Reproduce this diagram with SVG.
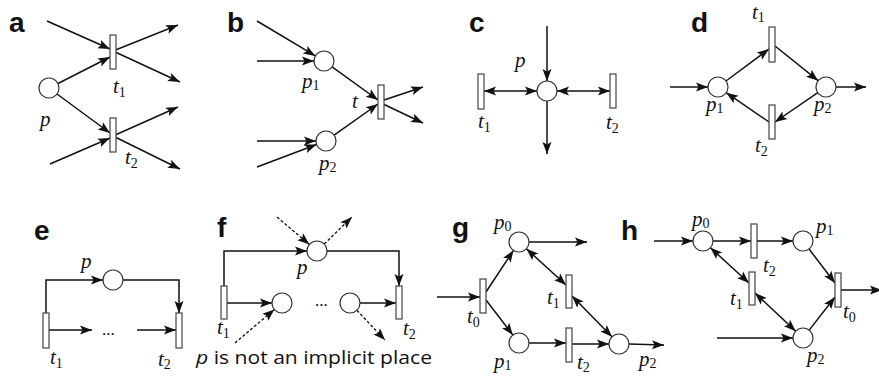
<svg xmlns="http://www.w3.org/2000/svg" width="879" height="376" viewBox="0 0 879 376">
<defs>
<marker id="ah" markerUnits="userSpaceOnUse" markerWidth="13" markerHeight="9" refX="12" refY="4.5" orient="auto-start-reverse" overflow="visible">
<path d="M0,0 L12,4.5 L0,9 L2.5,4.5 Z" fill="#111"/>
</marker>
<style>
.pl{fill:#fff;stroke:#333;stroke-width:1.2}
.tr{fill:#fff;stroke:#444;stroke-width:1.2}
.ar{fill:none;stroke:#111;stroke-width:1.5;marker-end:url(#ah)}
.da{fill:none;stroke:#111;stroke-width:1.5;marker-start:url(#ah);marker-end:url(#ah)}
.dt{fill:none;stroke:#111;stroke-width:1.3;stroke-dasharray:3,2;marker-end:url(#ah)}
.lb{font-family:"Liberation Sans",Arial,sans-serif;font-weight:bold;font-size:28px;fill:#111}
.it{font-family:"Liberation Serif","DejaVu Serif",serif;font-style:italic;font-size:21px;fill:#111}
.sb{font-family:"Liberation Serif","DejaVu Serif",serif;font-style:normal;font-size:14px}
.dots{font-family:"Liberation Serif","DejaVu Serif",serif;font-size:17px;fill:#111}
.cap{font-family:"Open Sans","Noto Sans",sans-serif;font-size:19px;fill:#111}
</style>
</defs>

<g id="labels">
<text class="lb" x="9" y="32">a</text>
<text class="lb" x="227" y="32">b</text>
<text class="lb" x="469" y="32">c</text>
<text class="lb" x="691" y="32">d</text>
<text class="lb" x="34" y="240">e</text>
<text class="lb" x="217" y="237">f</text>
<text class="lb" x="452" y="237">g</text>
<text class="lb" x="621" y="240">h</text>
</g>

<g id="connectors">
<line class="ar" x1="47" y1="21" x2="110" y2="49"/>
<line class="ar" x1="58" y1="83.5" x2="110" y2="57"/>
<line class="ar" x1="113" y1="51" x2="178" y2="25"/>
<line class="ar" x1="113" y1="51" x2="180" y2="82"/>
<line class="ar" x1="57" y1="94" x2="110" y2="133"/>
<line class="ar" x1="50" y1="164" x2="110" y2="138"/>
<line class="ar" x1="113" y1="136" x2="178" y2="107"/>
<line class="ar" x1="113" y1="136" x2="180" y2="169"/>
<line class="ar" x1="257" y1="21" x2="315.4" y2="55.9"/>
<line class="ar" x1="257" y1="61" x2="314" y2="61"/>
<line class="ar" x1="332.1" y1="66.9" x2="378" y2="100"/>
<line class="ar" x1="334.1" y1="135.2" x2="378" y2="104"/>
<line class="ar" x1="257" y1="141" x2="316" y2="141"/>
<line class="ar" x1="257" y1="167" x2="316.6" y2="144.5"/>
<line class="ar" x1="381" y1="101" x2="423" y2="87"/>
<line class="ar" x1="381" y1="103" x2="423" y2="123"/>
<line class="ar" x1="547" y1="26" x2="547" y2="81"/>
<line class="ar" x1="547" y1="101" x2="547" y2="154"/>
<line class="da" x1="484" y1="91" x2="537" y2="91"/>
<line class="da" x1="557" y1="91" x2="610" y2="91"/>
<line class="ar" x1="670" y1="87" x2="708" y2="87"/>
<line class="ar" x1="726" y1="81" x2="769" y2="49"/>
<line class="ar" x1="775" y1="46" x2="818.2" y2="80.7"/>
<line class="ar" x1="817.8" y1="92.7" x2="775" y2="122"/>
<line class="ar" x1="769" y1="122" x2="726.2" y2="92.7"/>
<line class="ar" x1="836" y1="87" x2="866" y2="87"/>
<path class="ar" d="M46,313 V280 H103"/>
<path class="ar" d="M123,280 H179 V313"/>
<line class="ar" x1="49" y1="330" x2="92" y2="330"/>
<line class="ar" x1="137" y1="330" x2="176" y2="330"/>
<path class="ar" d="M224,286 V251 H307"/>
<path class="ar" d="M327,251 H399 V286"/>
<line class="dt" x1="277" y1="217" x2="309.4" y2="244.5"/>
<line class="dt" x1="324.2" y1="244" x2="352" y2="217"/>
<line class="ar" x1="227" y1="303" x2="272" y2="303"/>
<line class="ar" x1="360" y1="303" x2="396" y2="303"/>
<line class="dt" x1="235" y1="343" x2="274.4" y2="309.5"/>
<line class="dt" x1="356.9" y1="310.3" x2="385" y2="340"/>
<line class="ar" x1="437" y1="297" x2="480" y2="297"/>
<line class="ar" x1="486" y1="292" x2="513.5" y2="250.3"/>
<line class="ar" x1="486" y1="300" x2="512.9" y2="335.1"/>
<line class="ar" x1="529" y1="242" x2="587" y2="242"/>
<line class="da" x1="526.4" y1="248.8" x2="566" y2="285"/>
<line class="da" x1="572" y1="296" x2="612" y2="336.8"/>
<line class="ar" x1="529" y1="343" x2="566" y2="343"/>
<line class="ar" x1="572" y1="344" x2="609" y2="344"/>
<line class="ar" x1="629" y1="344" x2="664" y2="345"/>
<line class="ar" x1="654" y1="241" x2="693" y2="241"/>
<line class="ar" x1="713" y1="241" x2="751" y2="241"/>
<line class="ar" x1="757" y1="241" x2="793" y2="241"/>
<line class="ar" x1="809" y1="249" x2="835" y2="283"/>
<line class="ar" x1="809.2" y1="330.1" x2="835" y2="297"/>
<line class="ar" x1="841" y1="290" x2="882" y2="290"/>
<line class="da" x1="710.4" y1="247.7" x2="749" y2="283"/>
<line class="da" x1="755" y1="293" x2="795.7" y2="331.2"/>
<line class="ar" x1="717" y1="338" x2="793" y2="338"/>
</g>

<g id="a-p"><circle class="pl" cx="49" cy="88" r="10"/><text class="it" x="40" y="126">p</text></g>
<g id="a-t1"><rect class="tr" x="110" y="35" width="6" height="34"/><text class="it" x="113" y="93">t<tspan class="sb" dy="4">1</tspan></text></g>
<g id="a-t2"><rect class="tr" x="110" y="118" width="6" height="34"/><text class="it" x="125" y="164">t<tspan class="sb" dy="4">2</tspan></text></g>

<g id="b-p1"><circle class="pl" cx="324" cy="61" r="10"/><text class="it" x="302" y="88">p<tspan class="sb" dy="2">1</tspan></text></g>
<g id="b-p2"><circle class="pl" cx="326" cy="141" r="10"/><text class="it" x="319" y="170">p<tspan class="sb" dy="2">2</tspan></text></g>
<g id="b-t"><rect class="tr" x="378" y="85" width="6" height="34"/><text class="it" x="352" y="108">t</text></g>

<g id="c-p"><circle class="pl" cx="547" cy="91" r="10"/><text class="it" x="515" y="67">p</text></g>
<g id="c-t1"><rect class="tr" x="478" y="74" width="6" height="35"/><text class="it" x="478" y="128">t<tspan class="sb" dy="4">1</tspan></text></g>
<g id="c-t2"><rect class="tr" x="610" y="74" width="6" height="34"/><text class="it" x="606" y="129">t<tspan class="sb" dy="4">2</tspan></text></g>

<g id="d-p1"><circle class="pl" cx="718" cy="87" r="10"/><text class="it" x="706" y="111">p<tspan class="sb" dy="2">1</tspan></text></g>
<g id="d-p2"><circle class="pl" cx="826" cy="87" r="10"/><text class="it" x="814" y="111">p<tspan class="sb" dy="2">2</tspan></text></g>
<g id="d-t1"><rect class="tr" x="769" y="27" width="6" height="35"/><text class="it" x="752" y="19">t<tspan class="sb" dy="3">1</tspan></text></g>
<g id="d-t2"><rect class="tr" x="769" y="105" width="6" height="34"/><text class="it" x="755" y="152">t<tspan class="sb" dy="4">2</tspan></text></g>

<g id="e-p"><circle class="pl" cx="113" cy="280" r="10"/><text class="it" x="81" y="268">p</text></g>
<g id="e-t1"><rect class="tr" x="43" y="313" width="6" height="35"/><text class="it" x="50" y="364">t<tspan class="sb" dy="4">1</tspan></text></g>
<g id="e-t2"><rect class="tr" x="176" y="313" width="6" height="35"/><text class="it" x="158" y="366">t<tspan class="sb" dy="3">2</tspan></text></g>
<text class="dots" x="102" y="335">...</text>

<g id="f-p"><circle class="pl" cx="317" cy="251" r="10"/><text class="it" x="297" y="274">p</text></g>
<g id="f-c1"><circle class="pl" cx="282" cy="303" r="10"/></g>
<g id="f-c2"><circle class="pl" cx="350" cy="303" r="10"/></g>
<g id="f-t1"><rect class="tr" x="221" y="286" width="6" height="33"/><text class="it" x="217" y="334">t<tspan class="sb" dy="4">1</tspan></text></g>
<g id="f-t2"><rect class="tr" x="396" y="286" width="6" height="33"/><text class="it" x="403" y="335">t<tspan class="sb" dy="4">2</tspan></text></g>
<text class="dots" x="315" y="306">...</text>
<text class="cap" x="196" y="364" textLength="236" lengthAdjust="spacingAndGlyphs"><tspan font-style="italic">p</tspan> is not an implicit place</text>

<g id="g-p0"><circle class="pl" cx="519" cy="242" r="10"/><text class="it" x="494" y="229">p<tspan class="sb" dy="2">0</tspan></text></g>
<g id="g-p1"><circle class="pl" cx="519" cy="343" r="10"/><text class="it" x="494" y="368">p<tspan class="sb" dy="2">1</tspan></text></g>
<g id="g-p2"><circle class="pl" cx="619" cy="344" r="10"/><text class="it" x="639" y="366">p<tspan class="sb" dy="2">2</tspan></text></g>
<g id="g-t0"><rect class="tr" x="480" y="279" width="6" height="34"/><text class="it" x="467" y="323">t<tspan class="sb" dy="4">0</tspan></text></g>
<g id="g-t1"><rect class="tr" x="566" y="275" width="6" height="33"/><text class="it" x="547" y="304">t<tspan class="sb" dy="4">1</tspan></text></g>
<g id="g-t2"><rect class="tr" x="566" y="328" width="6" height="34"/><text class="it" x="577" y="369">t<tspan class="sb" dy="3">2</tspan></text></g>

<g id="h-p0"><circle class="pl" cx="703" cy="241" r="10"/><text class="it" x="692" y="226">p<tspan class="sb" dy="2">0</tspan></text></g>
<g id="h-p1"><circle class="pl" cx="803" cy="241" r="10"/><text class="it" x="816" y="233">p<tspan class="sb" dy="2">1</tspan></text></g>
<g id="h-p2"><circle class="pl" cx="803" cy="338" r="10"/><text class="it" x="807" y="362">p<tspan class="sb" dy="2">2</tspan></text></g>
<g id="h-t2"><rect class="tr" x="751" y="224" width="6" height="34"/><text class="it" x="763" y="272">t<tspan class="sb" dy="4">2</tspan></text></g>
<g id="h-t1"><rect class="tr" x="749" y="272" width="6" height="33"/><text class="it" x="730" y="305">t<tspan class="sb" dy="4">1</tspan></text></g>
<g id="h-t0"><rect class="tr" x="835" y="273" width="6" height="34"/><text class="it" x="843" y="318">t<tspan class="sb" dy="4">0</tspan></text></g>
</svg>
